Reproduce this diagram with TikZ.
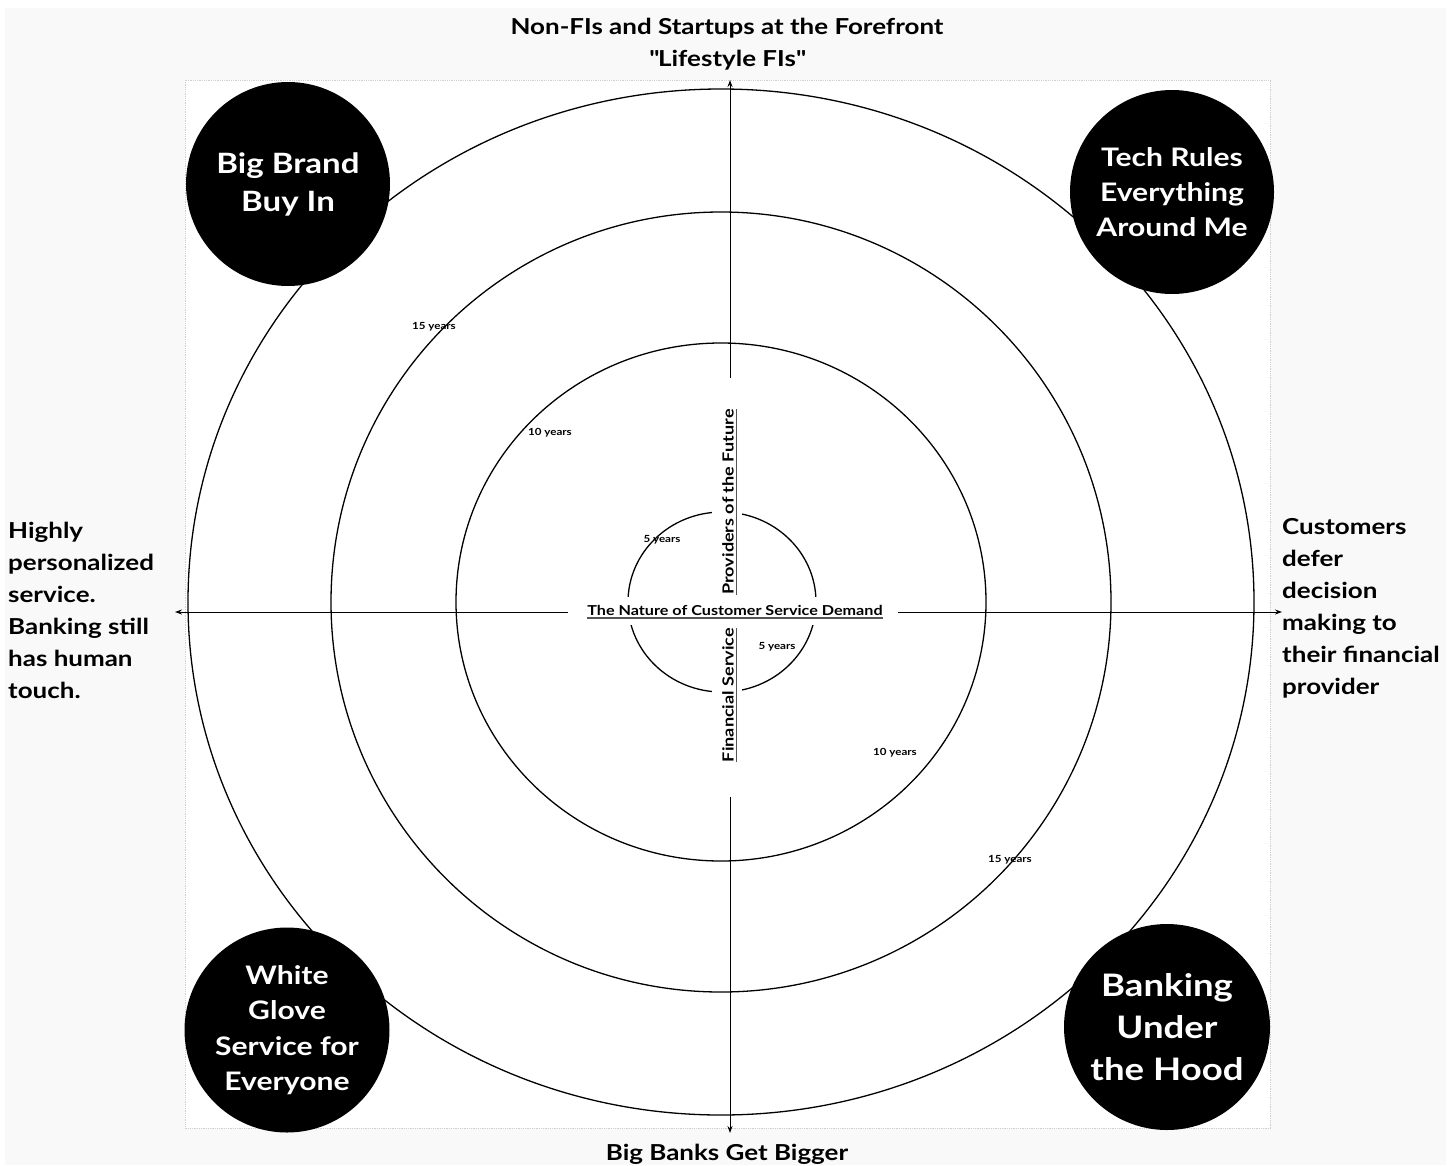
\documentclass[tikz,border=0pt]{standalone}
\usepackage{fontspec}
\setmainfont{Lato}[FakeStretch=1.18]
\usetikzlibrary{arrows.meta}
\definecolor{bggray}{HTML}{F9F9F9}
\definecolor{framegray}{HTML}{CFCFCF}
\definecolor{ulgray}{HTML}{555555}
\tikzset{
  ring/.style={draw=black, line width=1.3pt},
  axisline/.style={draw=black, line width=1pt, -{Stealth[length=7pt,width=5pt]}},
  quad/.style={circle, fill=black, text=white, minimum size=#1, inner sep=0pt, align=center, font=\bfseries},
  sidetext/.style={align=left, font=\fontsize{22}{32}\selectfont\bfseries, text=black, inner sep=0pt},
  axtext/.style={align=center, font=\fontsize{22}{32}\selectfont\bfseries, text=black, inner sep=0pt},
  yrs/.style={font=\fontsize{9.8}{12}\selectfont\bfseries, inner sep=0pt},
  cover/.style={fill=white, inner sep=0pt},
  midtext/.style={font=\fontsize{13.7}{16}\selectfont\bfseries, inner sep=0pt},
  vtext/.style={font=\fontsize{15.3}{18}\selectfont\bfseries, inner sep=0pt, rotate=90},
  uline/.style={draw=ulgray, line width=1.2pt}
}
\begin{document}
\begin{tikzpicture}[x=1pt,y=-1pt]
\useasboundingbox (0,0) rectangle (1456,1165);
\fill[white] (0,0) rectangle (1456,1165);
\fill[bggray] (5,8) rectangle (1446,1165);
\draw[framegray, fill=white, line width=0.8pt, densely dotted] (185,80) rectangle (1270,1128);

% rings
\draw[ring, fill=white] (721,602) ellipse [x radius=533, y radius=513];
\draw[ring] (721,602) ellipse [x radius=390, y radius=390];
\draw[ring] (721,602) ellipse [x radius=265, y radius=259];
\draw[ring] (722,602) ellipse [x radius=94, y radius=90];

% axis end points
\coordinate (ctr) at (730,612);
\coordinate (ltip) at (175,612);
\coordinate (rtip) at (1282,612);
\coordinate (ttip) at (730,80);
\coordinate (btip) at (730,1133);
\draw[axisline] (ctr) -- (ltip);
\draw[axisline] (ctr) -- (rtip);
\draw[axisline] (ctr) -- (ttip);
\draw[axisline] (ctr) -- (btip);

% white covers behind centre labels
\node[cover, minimum width=330pt, minimum height=28pt] (hbox) at (733,611) {};
\node[cover, minimum width=30pt, minimum height=219pt] (pbox) at (727,487.5) {};
\node[cover, minimum width=30pt, minimum height=172pt] (fbox) at (727,711) {};

% centre labels
\node[midtext] (nat) at (735,610) {The Nature of Customer Service Demand};
\draw[uline] ([yshift=-3pt]nat.base west) -- ([yshift=-3pt]nat.base east);
\node[vtext] (prov) at (728,502) {Providers of the Future};
\draw[uline] ([xshift=3pt]prov.base west) -- ([xshift=3pt]prov.base east);
\node[vtext] (fin) at (728,695) {Financial Service};
\draw[uline] ([xshift=3pt]fin.base west) -- ([xshift=3pt]fin.base east);

% year labels
\node[yrs] (y15a) at (434,327) {15 years};
\node[yrs] (y10a) at (550,433) {10 years};
\node[yrs] (y5a) at (662,540) {5 years};
\node[yrs] (y5b) at (777,647) {5 years};
\node[yrs] (y10b) at (895,753) {10 years};
\node[yrs] (y15b) at (1010,860) {15 years};

% quadrant circles
\node[quad=204pt, font=\fontsize{28}{38}\selectfont\bfseries] (bigbrand) at (288,184) {Big Brand\\Buy In};
\node[quad=204pt, font=\fontsize{25.5}{35}\selectfont\bfseries] (tech) at (1172,192) {Tech Rules\\Everything\\Around Me};
\node[quad=205pt, font=\fontsize{25.5}{35.5}\selectfont\bfseries] (glove) at (287,1030) {White\\Glove\\Service for\\Everyone};
\node[quad=206pt, font=\fontsize{31}{42}\selectfont\bfseries] (hood) at (1167,1027) {Banking\\Under\\the Hood};

% axis texts
\node[axtext] (toplbl) at (727,44) {Non-FIs and Startups at the Forefront\\\textquotedbl Lifestyle FIs\textquotedbl};
\node[axtext] (botlbl) at (727,1154) {Big Banks Get Bigger};
\node[sidetext, anchor=north west] (leftlbl) at (8,522) {Highly\\personalized\\service.\\Banking still\\has human\\touch.};
\node[sidetext, anchor=north west] (rightlbl) at (1282,518) {Customers\\defer\\decision\\making to\\their financial\\provider};
\end{tikzpicture}
\end{document}
